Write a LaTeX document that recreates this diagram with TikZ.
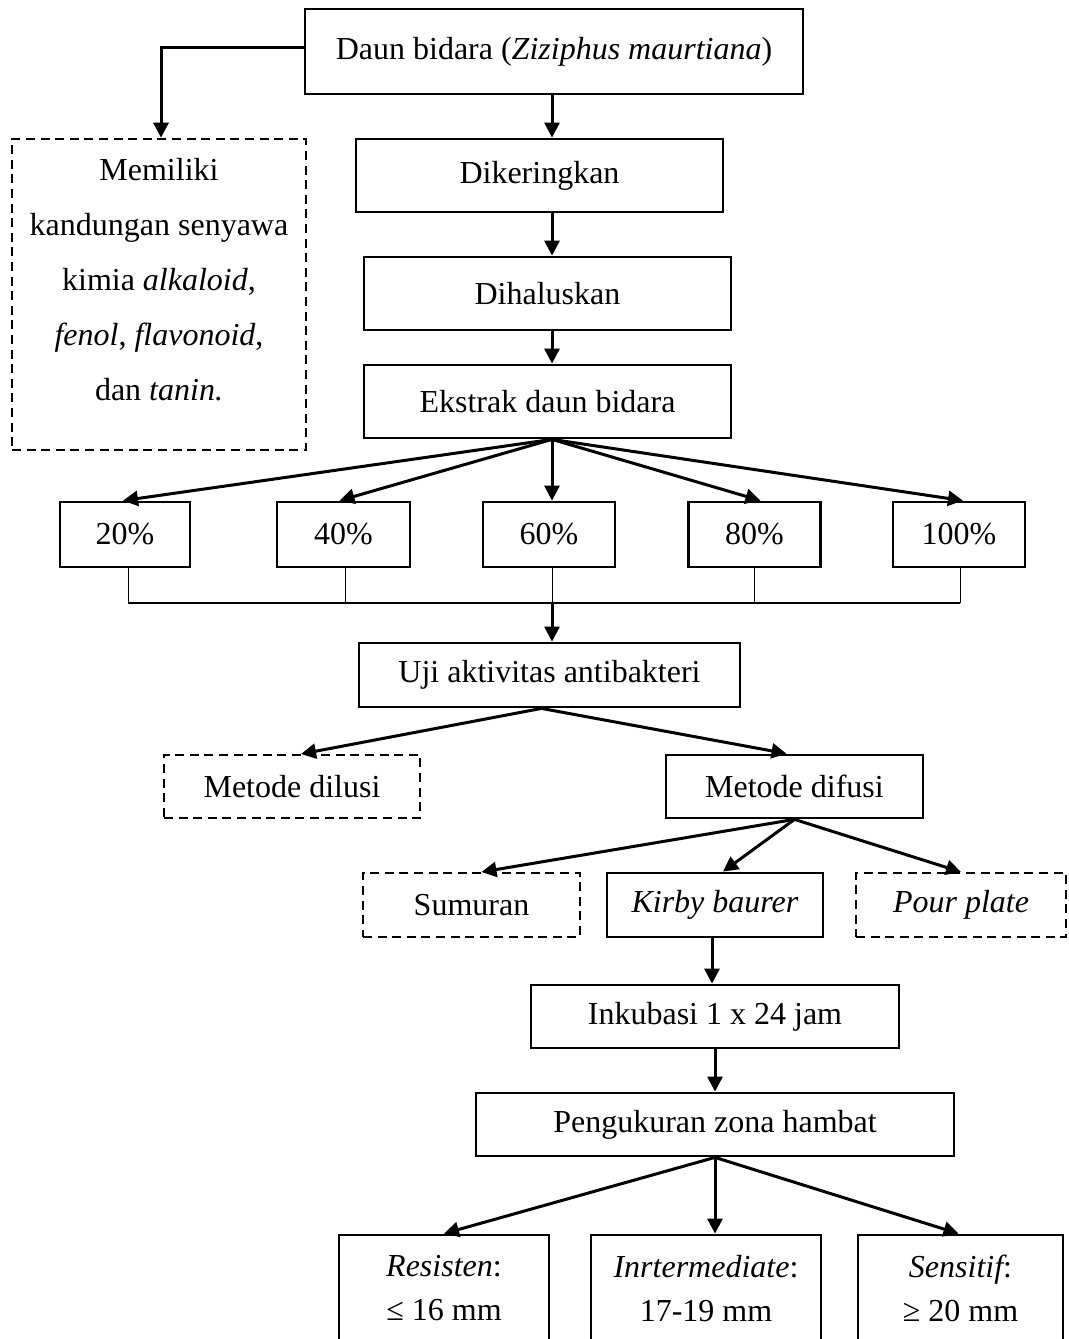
\documentclass[tikz,border=0pt]{standalone}
\usepackage{fontspec}
\setmainfont{Liberation Serif}
\usetikzlibrary{arrows.meta,calc}
\newcommand\tparbox[4]{\parbox[c][#2][t]{#1}{\centering\vspace*{#3}#4}}
\begin{document}
\begin{tikzpicture}[x=0.5pt,y=-0.5pt,
  box/.style={draw, line width=1.4pt, inner sep=0pt, font=\fontsize{16}{20}\selectfont, align=center},
  dbox/.style={box, line width=1.0pt, dash pattern=on 4.5pt off 2.8pt},
  arr/.style={line width=1.5pt, -{Triangle[length=7.5pt,width=7.5pt]}},
  thinline/.style={line width=0.5pt},
  busline/.style={line width=0.9pt}]
\useasboundingbox (0,0) rectangle (1069,1339);

\node[box, minimum width=249pt, minimum height=42.5pt] (top) at (554,51.5) {Daun bidara (\textit{Ziziphus maurtiana})};
\node[dbox, line width=1.3pt, font=\fontsize{16}{27.5}\selectfont] (mem) at (159,294.5)
  {\tparbox{147pt}{155.5pt}{9.6pt}{Memiliki\\ kandungan senyawa\\ kimia \textit{alkaloid},\\ \textit{fenol}, \textit{flavonoid},\\ dan \textit{tanin.}}};
\node[box, minimum width=183.5pt, minimum height=36.5pt] (dik) at (539.5,175.5) {Dikeringkan};
\node[box, minimum width=183.5pt, minimum height=36.5pt] (dih) at (547.5,293.5) {Dihaluskan};
\node[box, minimum width=183.5pt, minimum height=36.5pt] (eks) at (547.5,401.5) {Ekstrak daun bidara};

\node[box, minimum width=65pt, minimum height=32.5pt] (p20) at (125,534.5) {20\%};
\node[box, minimum width=66.5pt, minimum height=32.5pt] (p40) at (343.5,534.5) {40\%};
\node[box, minimum width=66pt, minimum height=32.5pt] (p60) at (549,534.5) {60\%};
\node[box, minimum width=66pt, minimum height=32.5pt] (p80) at (754.5,534.5) {80\%};
\node[box, minimum width=66pt, minimum height=32.5pt] (p100) at (959,534.5) {100\%};

\node[box, minimum width=190.5pt, minimum height=32pt] (uji) at (549.5,675) {Uji aktivitas antibakteri};
\node[dbox, minimum width=128pt, minimum height=31.5pt] (dil) at (292,786.5) {Metode dilusi};
\node[box, minimum width=128.5pt, minimum height=31.5pt] (dif) at (794.5,786.5) {Metode difusi};

\node[dbox, minimum width=108.5pt, minimum height=32pt] (sum) at (471.5,905) {Sumuran};
\node[box, minimum width=108pt, minimum height=32pt] (kir) at (715,905) {\textit{Kirby baurer}};
\node[dbox, minimum width=105pt, minimum height=32pt] (pour) at (961,905) {\textit{Pour plate}};

\node[box, minimum width=184pt, minimum height=31.5pt] (ink) at (715,1016.5) {Inkubasi 1 x 24 jam};
\node[box, minimum width=239pt, minimum height=31.5pt] (pen) at (715,1124.5) {Pengukuran zona hambat};

\node[box, font=\fontsize{16}{22}\selectfont] (res) at (444,1295)
  {\tparbox{105pt}{60pt}{10pt}{{\itshape Resisten}:\\ ≤ 16 mm}};
\node[box, font=\fontsize{16}{22}\selectfont] (int) at (706,1295)
  {\tparbox{115pt}{60pt}{10pt}{{\itshape Inrtermediate}:\\ 17-19 mm}};
\node[box, font=\fontsize{16}{22}\selectfont] (sen) at (960.5,1295)
  {\tparbox{102.5pt}{60pt}{10pt}{{\itshape Sensitif}:\\ ≥ 20 mm}};

% connectors
\coordinate (ax) at (552,0);
\draw[arr] ([yshift=2.25pt]top.west) -| ([xshift=1pt]mem.north);
\draw[arr] (top.south -| ax) -- (dik.north -| ax);
\draw[arr] (dik.south -| ax) -- (dih.north -| ax);
\draw[arr] (dih.south -| ax) -- (eks.north -| ax);

\coordinate (fan) at (eks.south -| ax);
\draw[arr] (fan) -- ([xshift=-1pt]p20.north);
\draw[arr] (fan) -- ([xshift=-2pt]p40.north);
\draw[arr] (fan) -- (p60.north -| ax);
\draw[arr] (fan) -- ([xshift=3pt]p80.north);
\draw[arr] (fan) -- ([xshift=2pt]p100.north);

\coordinate (bus) at (552,603);
\draw[thinline] ([xshift=1.5pt]p20.south) -- ([xshift=1.5pt]p20.south |- bus);
\draw[thinline] ([xshift=1pt]p40.south) -- ([xshift=1pt]p40.south |- bus);
\draw[thinline] (p60.south -| ax) -- (bus);
\draw[thinline] (p80.south) -- (p80.south |- bus);
\draw[thinline] ([xshift=0.5pt]p100.south) -- ([xshift=0.5pt]p100.south |- bus);
\draw[busline] ([xshift=1.5pt]p20.south |- bus) -- ([xshift=0.5pt]p100.south |- bus);
\draw[arr] (bus) -- (uji.north -| ax);

\draw[arr] ([xshift=-4pt]uji.south) -- ([xshift=4.5pt]dil.north);
\draw[arr] ([xshift=-4pt]uji.south) -- ([xshift=-4pt]dif.north);

\draw[arr] (dif.south) -- ([xshift=5pt]sum.north);
\draw[arr] (dif.south) -- ([xshift=4pt]kir.north);
\draw[arr] (dif.south) -- (pour.north);

\draw[arr] ([xshift=-1.5pt]kir.south) -- ([xshift=-1.5pt]kir.south |- ink.north);
\draw[arr] (ink.south) -- (pen.north);

\draw[arr] (pen.south) -- (res.north);
\draw[arr] (pen.south) -- (pen.south |- int.north);
\draw[arr] (pen.south) -- ([xshift=-1pt]sen.north);
\end{tikzpicture}
\end{document}
